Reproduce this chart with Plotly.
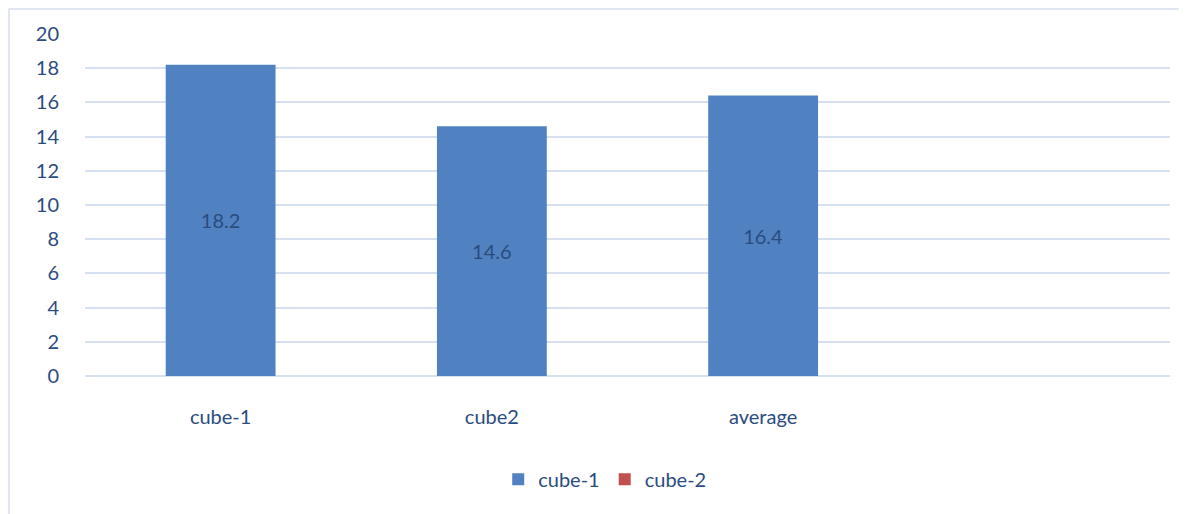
import plotly.graph_objects as go

categories = ["cube-1", "cube2", "average"]
cube1_values = [18.2, 14.6, 16.4]
cube2_values = [None, None, None]
y_ticks = [0, 2, 4, 6, 8, 10, 12, 14, 16, 18, 20]

# page body adds an 8px offset; size figure to fit the window
W, H = 1179, 506
ml, mr, mt, mb = 77, 17, 26, 138
pw = W - ml - mr
ph = H - mt - mb

font_fam = "Lato, 'Open Sans', sans-serif"
txt_col = "#2B4C7E"
grid_col = "#D6E0F0"

fig = go.Figure()
fig.add_trace(go.Bar(
    x=categories, y=cube1_values, name="cube-1",
    marker=dict(color="#5082C2", line=dict(width=0)),
    text=[f"{v}" for v in cube1_values], textposition="inside",
    insidetextanchor="middle", textangle=0,
    textfont=dict(color="#2B4C7E", size=20, family=font_fam),
))
fig.add_trace(go.Bar(
    x=categories, y=cube2_values, name="cube-2",
    marker=dict(color="#C0504D", line=dict(width=0)),
))

fig.update_layout(
    width=W, height=H,
    margin=dict(l=ml, r=mr, t=mt, b=mb),
    paper_bgcolor="white", plot_bgcolor="white",
    barmode="overlay", bargap=0.595,
    font=dict(family=font_fam, color=txt_col, size=19),
    showlegend=True,
    legend=dict(orientation="h", x=0.479, xanchor="center", y=-0.245, yanchor="top",
                font=dict(size=20, color=txt_col), itemwidth=30, traceorder="normal"),
    xaxis=dict(type="category", range=[-0.5, 3.5], showgrid=False, zeroline=False,
               showline=False, ticks="outside", ticklen=23, tickcolor="rgba(0,0,0,0)",
               tickfont=dict(size=20, color=txt_col)),
    yaxis=dict(range=[0, 20], tickvals=y_ticks, showgrid=True, gridcolor=grid_col,
               gridwidth=1.5, zeroline=True, zerolinecolor=grid_col, zerolinewidth=1.5,
               showline=False, ticks="outside", ticklen=21, tickcolor="rgba(0,0,0,0)",
               tickfont=dict(size=20, color=txt_col)),
    shapes=[dict(type="rect", xref="paper", yref="paper",
                 x0=(1 - ml) / pw, x1=(W + 5 - ml) / pw,
                 y0=(mb - (H + 5)) / ph, y1=(H - 1 - mb) / ph,
                 line=dict(color="#D6E0F0", width=1.5), fillcolor="rgba(0,0,0,0)",
                 layer="below")],
)

fig.write_html("out.html")
